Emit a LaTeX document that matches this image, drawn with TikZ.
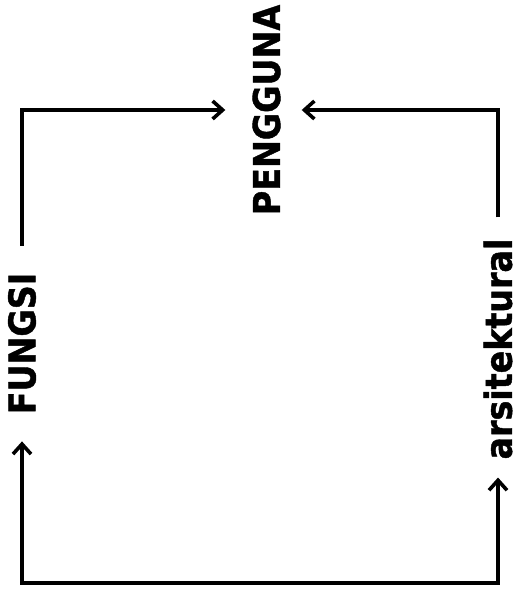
\documentclass[tikz,border=0pt]{standalone}
\usepackage{fontspec}
\setmainfont{DejaVu Sans}[FakeStretch=0.9, BoldFeatures={FakeBold=1.2}]
\usetikzlibrary{arrows.meta,positioning,calc}

\begin{document}
\begin{tikzpicture}[
  x=1pt, y=-1pt,
  font=\fontsize{37}{44}\selectfont\bfseries,
  barb/.style={Straight Barb[length=10pt,width=18pt]},
  link/.style={line width=3.6pt, draw=black, line join=miter,
               arrows={-Straight Barb[length=10pt,width=18pt]}},
  label/.style={rotate=90, inner sep=0pt, text=black}
]
\useasboundingbox (0,0) rectangle (518,594);

% --- Nodes ---
\node[label] (peng) at (266.5,110) {PENGGUNA};
\node[label] (fungsi) at (22,343.5) {FUNGSI};
\node[label] (arsi) at (498,349) {arsitektural};
\coordinate (bot) at (260,583);

% --- Arrows ---
\draw[link, shorten <=27pt, shorten >=27pt] (fungsi.east) |- (peng.north);
\draw[link, shorten <=21pt, shorten >=21pt] (arsi.east) |- (peng.south);
\draw[link, arrows={Straight Barb[length=10pt,width=18pt]-Straight Barb[length=10pt,width=18pt]},
      shorten <=27pt, shorten >=18pt] (fungsi.west) |- (bot) -| (arsi.west);

\end{tikzpicture}
\end{document}
